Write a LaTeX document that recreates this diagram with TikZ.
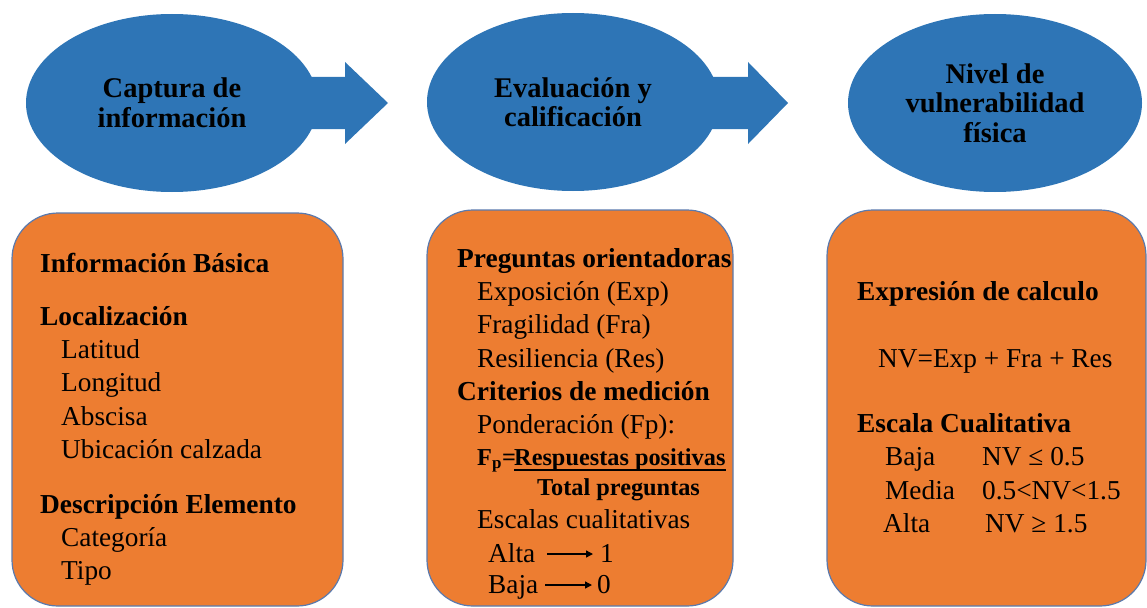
\documentclass[tikz,border=0pt]{standalone}
\usepackage{fontspec}
\setmainfont{Liberation Serif}
\usetikzlibrary{shapes.geometric,arrows.meta,calc}
\definecolor{ublue}{HTML}{2E75B6}
\definecolor{uorange}{HTML}{ED7D31}
\definecolor{uborder}{HTML}{5A7AAE}
\begin{document}
\begin{tikzpicture}[x=1pt,y=-1pt,
  oval/.style={ellipse, fill=ublue, draw=none, minimum width=292pt, minimum height=178pt, inner sep=0pt, align=center, font=\fontsize{28.5}{29.5}\selectfont\bfseries},
  panel/.style={rectangle, rounded corners=46pt, fill=uorange, draw=uborder, line width=1.2pt, inner sep=0pt},
  tx/.style={anchor=base west, inner sep=0pt, font=\fontsize{27.3}{32}\selectfont},
  bx/.style={anchor=base west, inner sep=0pt, font=\fontsize{27.4}{32}\selectfont\bfseries},
  fr/.style={anchor=base west, inner sep=0pt, font=\fontsize{24.3}{28}\selectfont\bfseries},
  blockarrow/.style={fill=ublue, draw=none},
  smallarrow/.style={-{Triangle[length=7pt,width=7pt]}, line width=1.4pt}
]
\useasboundingbox (0,0) rectangle (1147,607);
% block arrows
\fill[blockarrow] (300,77) -- (345,77) -- (345,62) -- (388,103) -- (345,144) -- (345,129) -- (300,129) -- cycle;
\fill[blockarrow] (705,77) -- (748,77) -- (748,62) -- (788,103) -- (748,144) -- (748,129) -- (705,129) -- cycle;
% ovals
\node[oval] (e1) at (172,103) {Captura de\\información};
\node[oval] (e2) at (573,102) {Evaluación y\\calificación};
\node[oval, minimum width=294pt] (e3) at (995,103) {Nivel de\\vulnerabilidad\\física};
% panels
\node[panel, minimum width=331pt, minimum height=393pt] (p1) at (177.5,409.5) {};
\node[panel, minimum width=306pt, minimum height=396pt] (p2) at (580,408) {};
\node[panel, minimum width=319pt, minimum height=396pt] (p3) at (986.5,408) {};
% panel 1 text
\node[bx] (a1) at (40,272) {Información Básica};
\node[bx] (a2) at (40,325) {Localización};
\node[tx] (a3) at (61,358) {Latitud};
\node[tx] (a4) at (61,391) {Longitud};
\node[tx] (a5) at (61,425) {Abscisa};
\node[tx] (a6) at (61,458) {Ubicación calzada};
\node[bx] (a7) at (40,513) {Descripción Elemento};
\node[tx] (a8) at (61,546) {Categoría};
\node[tx] (a9) at (61,579) {Tipo};
% panel 2 text
\node[bx] (b1) at (457,267) {Preguntas orientadoras};
\node[tx] (b2) at (477,300) {Exposición (Exp)};
\node[tx] (b3) at (477,333) {Fragilidad (Fra)};
\node[tx] (b4) at (477,367) {Resiliencia (Res)};
\node[bx] (b5) at (457,400) {Criterios de medición};
\node[tx] (b6) at (477,433) {Ponderación (Fp):};
\node[fr] (b7) at (477,465) {F\textsubscript{p}=};
\node[fr] (b8) at (514,465) {Respuestas positivas};
\draw[line width=1.6pt] ($(b8.base west)+(0,5)$) -- ($(b8.base east)+(0,5)$);
\node[fr] (b9) at (537,495) {Total preguntas};
\node[tx] (b10) at (477,528) {Escalas cualitativas};
\node[tx] (alta) at (488,562) {Alta};
\node[tx] (one) at (600,562) {1};
\draw[smallarrow] ($(alta.base east)+(12,-8)$) -- ($(one.base west)+(-7,-8)$);
\node[tx] (baja) at (488,593) {Baja};
\node[tx] (zero) at (597,593) {0};
\draw[smallarrow] ($(baja.base east)+(7,-8)$) -- ($(zero.base west)+(-5,-8)$);
% panel 3 text
\node[bx] (c1) at (857,300) {Expresión de calculo};
\node[tx] (c2) at (878,367) {NV=Exp + Fra + Res};
\node[bx] (c3) at (857,432) {Escala Cualitativa};
\node[tx] (c4) at (885,465) {Baja};
\node[tx] (c5) at (982,465) {NV ≤ 0.5};
\node[tx] (c6) at (885,499) {Media};
\node[tx] (c7) at (982,499) {0.5<NV<1.5};
\node[tx] (c8) at (883,532) {Alta};
\node[tx] (c9) at (985,532) {NV ≥ 1.5};
\end{tikzpicture}
\end{document}
